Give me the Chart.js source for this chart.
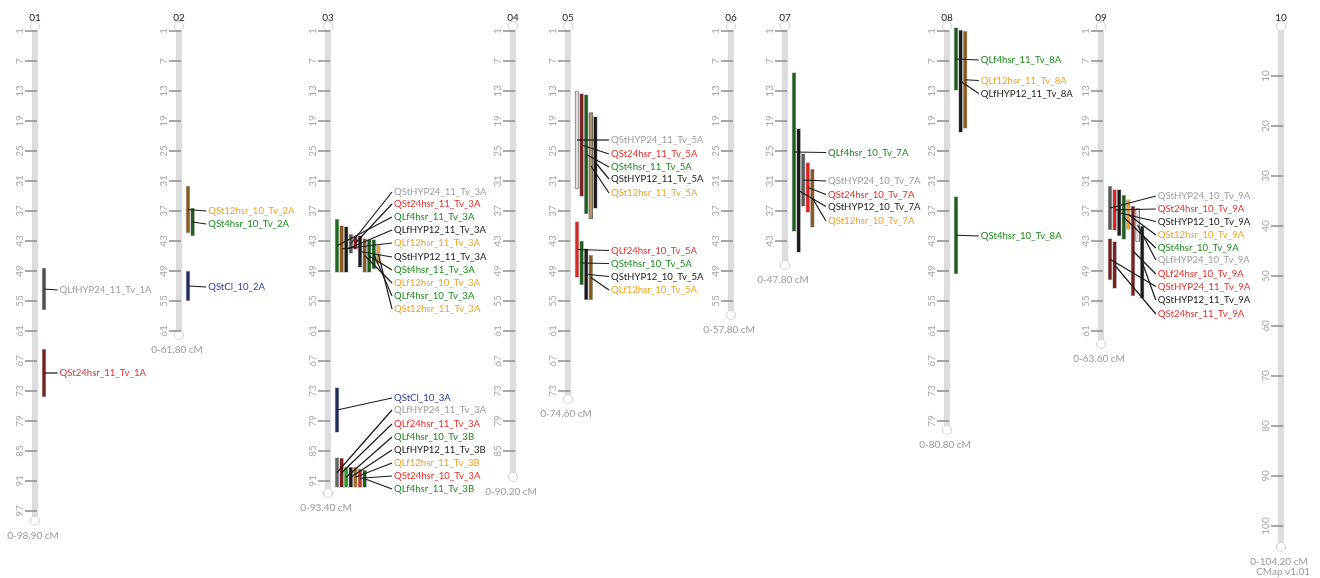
<!DOCTYPE html>
<html>
<head>
<meta charset="utf-8">
<title>CMap</title>
<script src="https://cdn.jsdelivr.net/npm/chart.js@4.4.1/dist/chart.umd.min.js"></script>
<style>
  html, body { margin: 0; padding: 0; background: #fff; }
  #wrap { width: 1320px; height: 578px; }
</style>
</head>
<body>
<div id="wrap"><canvas id="cmap" width="1320" height="578"></canvas></div>
<script>
// chromosomes
const chromNames = ["01", "02", "03", "04", "05", "06", "07", "08", "09", "10"];
const chromLength = [98.9, 61.8, 93.4, 90.2, 74.6, 57.8, 47.8, 80.8, 63.6, 104.2];
const ticksBySix = [1, 7, 13, 19, 25, 31, 37, 43, 49, 55, 61, 67, 73, 79, 85, 91, 97];
const ticksByTen = [10, 20, 30, 40, 50, 60, 70, 80, 90, 100];

// QTL intervals (cM)
const qtlName = [
  "QLfHYP24_11_Tv_1A", "QSt24hsr_11_Tv_1A",
  "QSt12hsr_10_Tv_2A", "QSt4hsr_10_Tv_2A", "QStCl_10_2A",
  "QStHYP24_11_Tv_3A", "QSt24hsr_11_Tv_3A", "QLf4hsr_11_Tv_3A", "QLfHYP12_11_Tv_3A", "QLf12hsr_11_Tv_3A",
  "QStHYP12_11_Tv_3A", "QSt4hsr_11_Tv_3A", "QLf12hsr_10_Tv_3A", "QLf4hsr_10_Tv_3A", "QSt12hsr_11_Tv_3A",
  "QStCl_10_3A", "QLfHYP24_11_Tv_3A", "QLf24hsr_11_Tv_3A", "QLf4hsr_10_Tv_3B", "QLfHYP12_11_Tv_3B",
  "QLf12hsr_11_Tv_3B", "QSt24hsr_10_Tv_3A", "QLf4hsr_11_Tv_3B",
  "QStHYP24_11_Tv_5A", "QSt24hsr_11_Tv_5A", "QSt4hsr_11_Tv_5A", "QStHYP12_11_Tv_5A", "QSt12hsr_11_Tv_5A",
  "QLf24hsr_10_Tv_5A", "QSt4hsr_10_Tv_5A", "QStHYP12_10_Tv_5A", "QLf12hsr_10_Tv_5A",
  "QLf4hsr_10_Tv_7A", "QStHYP24_10_Tv_7A", "QSt24hsr_10_Tv_7A", "QStHYP12_10_Tv_7A", "QSt12hsr_10_Tv_7A",
  "QLf4hsr_11_Tv_8A", "QLf12hsr_11_Tv_8A", "QLfHYP12_11_Tv_8A", "QSt4hsr_10_Tv_8A",
  "QStHYP24_10_Tv_9A", "QSt24hsr_10_Tv_9A", "QStHYP12_10_Tv_9A", "QSt12hsr_10_Tv_9A", "QSt4hsr_10_Tv_9A",
  "QLfHYP24_10_Tv_9A", "QLf24hsr_10_Tv_9A", "QStHYP24_11_Tv_9A", "QStHYP12_11_Tv_9A", "QSt24hsr_11_Tv_9A"
];
const qtlChrom = [
  0, 0,
  1, 1, 1,
  2, 2, 2, 2, 2, 2, 2, 2, 2, 2,
  2, 2, 2, 2, 2, 2, 2, 2,
  4, 4, 4, 4, 4, 4, 4, 4, 4,
  6, 6, 6, 6, 6,
  7, 7, 7, 7,
  8, 8, 8, 8, 8, 8, 8, 8, 8, 8
];
const qtlStart = [
  48.4, 64.6,
  32.0, 36.4, 49.0,
  41.6, 42.1, 38.6, 40.1, 39.9, 41.9, 42.7, 42.5, 42.7, 43.9,
  72.3, 86.3, 86.4, 88.2, 88.2, 88.2, 88.6, 88.8,
  13.1, 13.5, 13.7, 18.1, 17.3, 39.1, 43.0, 44.5, 45.8,
  9.3, 25.5, 27.3, 20.5, 28.6,
  0.3, 1.0, 0.8, 34.1,
  32.0, 32.7, 32.7, 34.7, 33.8, 36.5, 36.0, 42.5, 40.0, 43.1
];
const qtlEnd = [
  56.8, 74.2,
  41.4, 42.0, 55.0,
  45.5, 44.7, 49.3, 49.3, 49.3, 48.3, 49.3, 49.3, 48.6, 47.5,
  81.3, 92.3, 92.3, 92.3, 92.3, 92.3, 92.3, 92.3,
  32.5, 34.1, 37.6, 36.5, 38.6, 50.3, 51.8, 54.8, 54.8,
  41.1, 36.1, 37.3, 45.3, 40.3,
  12.9, 20.5, 21.3, 49.6,
  40.8, 40.9, 42.0, 40.7, 42.7, 43.1, 54.0, 50.8, 54.5, 52.5
];
// trait group -> label colour
const qtlTrait = [
  "HYP24", "h24",
  "h12", "h4", "Cl",
  "HYP24", "h24", "h4", "HYP12", "h12", "HYP12", "h4", "h12", "h4", "h12",
  "Cl", "HYP24", "h24", "h4", "HYP12", "h12", "h24", "h4",
  "HYP24", "h24", "h4", "HYP12", "h12", "h24", "h4", "HYP12", "h12",
  "h4", "HYP24", "h24", "HYP12", "h12",
  "h4", "h12", "HYP12", "h4",
  "HYP24", "h24", "HYP12", "h12", "h4", "HYP24", "h24", "h24", "HYP12", "h24"
];

// layout: lane of each bar beside its chromosome, label position (cM)
const chromX = [35, 179, 328, 513, 568, 731, 785, 947, 1101, 1281];
const qtlLane = [
  0, 0,
  0, 1, 0,
  3, 4, 0, 2, 1, 5, 7, 6, 8, 9,
  0, 0, 1, 2, 3, 4, 5, 6,
  0, 1, 2, 4, 3, 0, 1, 2, 3,
  0, 2, 3, 1, 4,
  0, 2, 1, 0,
  0, 1, 2, 4, 3, 6, 5, 0, 7, 1
];
const qtlLabelY = [
  52.8, 69.4,
  37.0, 39.6, 52.2,
  33.2, 35.6, 38.2, 40.8, 43.4, 46.2, 48.8, 51.4, 54.0, 56.6,
  74.4, 76.8, 79.6, 82.2, 84.8, 87.4, 90.0, 92.6,
  22.8, 25.6, 28.2, 30.6, 33.4, 44.9, 47.5, 50.1, 52.8,
  25.3, 31.0, 33.7, 36.1, 39.0,
  6.8, 10.9, 13.5, 42.0,
  34.0, 36.6, 39.1, 41.8, 44.4, 46.8, 49.6, 52.1, 54.8, 57.6
];
// styles
const barFill = [
  "#4d4d4d", "#7a1f1f",
  "#8a5a1c", "#1d5e1d", "#1f2d5e",
  "#5a5a5a", "#8e2424", "#1d6b1d", "#1a1a1a", "#8a5a1c", "#1a1a1a", "#1d5e1d", "#8a5a1c", "#1d5e1d", "#f0a030",
  "#1f2d5e", "#666666", "#7a1f1f", "#22a022", "#1a1a1a", "#a8702a", "#c0302a", "#1d5e1d",
  "#dedede", "#7a1f1f", "#1d5e1d", "#1a1a1a", "#b09468", "#d42a2a", "#1d5e1d", "#1a1a1a", "#8a5a1c",
  "#1d5e1d", "#5a5a5a", "#e02020", "#1a1a1a", "#8a5a1c",
  "#1d5e1d", "#8a5a1c", "#1a1a1a", "#1d5e1d",
  "#5a5a5a", "#e02020", "#1a1a1a", "#f0a020", "#1d5e1d", "#e0e0e0", "#7a1f1f", "#7a1f1f", "#1a1a1a", "#7a1f1f"
];
const labelColour = { HYP24: "#9d9d9d", h24: "#e8302a", h4: "#1a8a1a", HYP12: "#1a1a1a", h12: "#f5a01e", Cl: "#2a3ca8" };

const laneStep = 4.6;
const lanesPerChrom = chromNames.map((n, c) => {
  let m = 0;
  qtlChrom.forEach((q, i) => { if (q === c) m = Math.max(m, qtlLane[i] + 1); });
  return m;
});
const laneX = (i) => chromX[qtlChrom[i]] + 9 + qtlLane[i] * laneStep;
const labelX = (i) => chromX[qtlChrom[i]] + 20 + lanesPerChrom[qtlChrom[i]] * laneStep;

const datasets = [];

// chromosome backbones
chromNames.forEach((n, c) => {
  datasets.push({
    type: "line",
    data: [{ x: chromX[c], y: 0 }, { x: chromX[c], y: chromLength[c] }],
    borderColor: "#dddddd",
    borderWidth: 6,
    pointRadius: 4.5,
    pointBackgroundColor: "#ffffff",
    pointBorderColor: "#d6d6d6",
    pointBorderWidth: 1.2,
    order: 3
  });
});

// QTL bars
datasets.push({
  type: "bar",
  data: qtlName.map((n, i) => ({ x: laneX(i), y: [qtlStart[i], qtlEnd[i]] })),
  backgroundColor: barFill,
  borderColor: barFill.map(f => (f === "#dedede" || f === "#e0e0e0" || f === "#b09468") ? "#555555" : "rgba(170,170,170,0.85)"),
  borderWidth: 0.8,
  borderSkipped: false,
  barThickness: 4,
  order: 2
});

// connectors from bar middle to label
qtlName.forEach((n, i) => {
  datasets.push({
    type: "line",
    data: [
      { x: laneX(i), y: (qtlStart[i] + qtlEnd[i]) / 2 },
      { x: labelX(i) - 2, y: qtlLabelY[i] }
    ],
    borderColor: "#1a1a1a",
    borderWidth: 1.2,
    pointRadius: 0,
    order: 1
  });
});

const cmapText = {
  id: "cmapText",
  afterDatasetsDraw(chart) {
    const ctx = chart.ctx;
    const xs = chart.scales.x, ys = chart.scales.y;
    ctx.save();
    chromNames.forEach((name, c) => {
      const cx = xs.getPixelForValue(chromX[c]);
      const top = ys.getPixelForValue(0);
      const bot = ys.getPixelForValue(chromLength[c]);
      ctx.font = "10px Lato";
      ctx.fillStyle = "#222";
      ctx.textAlign = "center";
      ctx.textBaseline = "bottom";
      ctx.fillText(name, cx, top - 3);

      const ticks = c === 9 ? ticksByTen : ticksBySix;
      ticks.filter(t => t < chromLength[c]).forEach(t => {
        const y = ys.getPixelForValue(t);
        ctx.strokeStyle = "#8c8c8c";
        ctx.lineWidth = 1.5;
        ctx.beginPath();
        ctx.moveTo(cx - 10, y);
        ctx.lineTo(cx + 2, y);
        ctx.stroke();
        ctx.save();
        ctx.translate(cx - 15, y);
        ctx.rotate(-Math.PI / 2);
        ctx.fillStyle = "#a8a8a8";
        ctx.textAlign = "center";
        ctx.textBaseline = "middle";
        ctx.fillText(String(t), 0, 0);
        ctx.restore();
      });

      ctx.fillStyle = "#9a9a9a";
      ctx.textAlign = "center";
      ctx.textBaseline = "middle";
      ctx.fillText("0-" + chromLength[c].toFixed(2) + " cM", cx - 2, bot + 15);
    });

    ctx.font = "9.6px Lato";
    ctx.textAlign = "left";
    ctx.textBaseline = "middle";
    qtlName.forEach((n, i) => {
      ctx.fillStyle = labelColour[qtlTrait[i]];
      ctx.fillText(n, xs.getPixelForValue(labelX(i)), ys.getPixelForValue(qtlLabelY[i]));
    });

    ctx.font = "10px Lato";
    ctx.fillStyle = "#9a9a9a";
    ctx.textAlign = "right";
    ctx.fillText("CMap v1.01", 1310, 572);
    ctx.restore();
  }
};

new Chart(document.getElementById("cmap"), {
  type: "bar",
  data: { datasets },
  options: {
    responsive: false,
    animation: false,
    devicePixelRatio: 1,
    layout: { padding: 0, autoPadding: false },
    scales: {
      x: { type: "linear", min: 0, max: 1320, offset: false, display: false },
      y: { type: "linear", min: -5.2, max: 110.4, reverse: true, display: false }
    },
    plugins: { legend: { display: false }, tooltip: { enabled: false } }
  },
  plugins: [cmapText]
});
</script>
</body>
</html>
